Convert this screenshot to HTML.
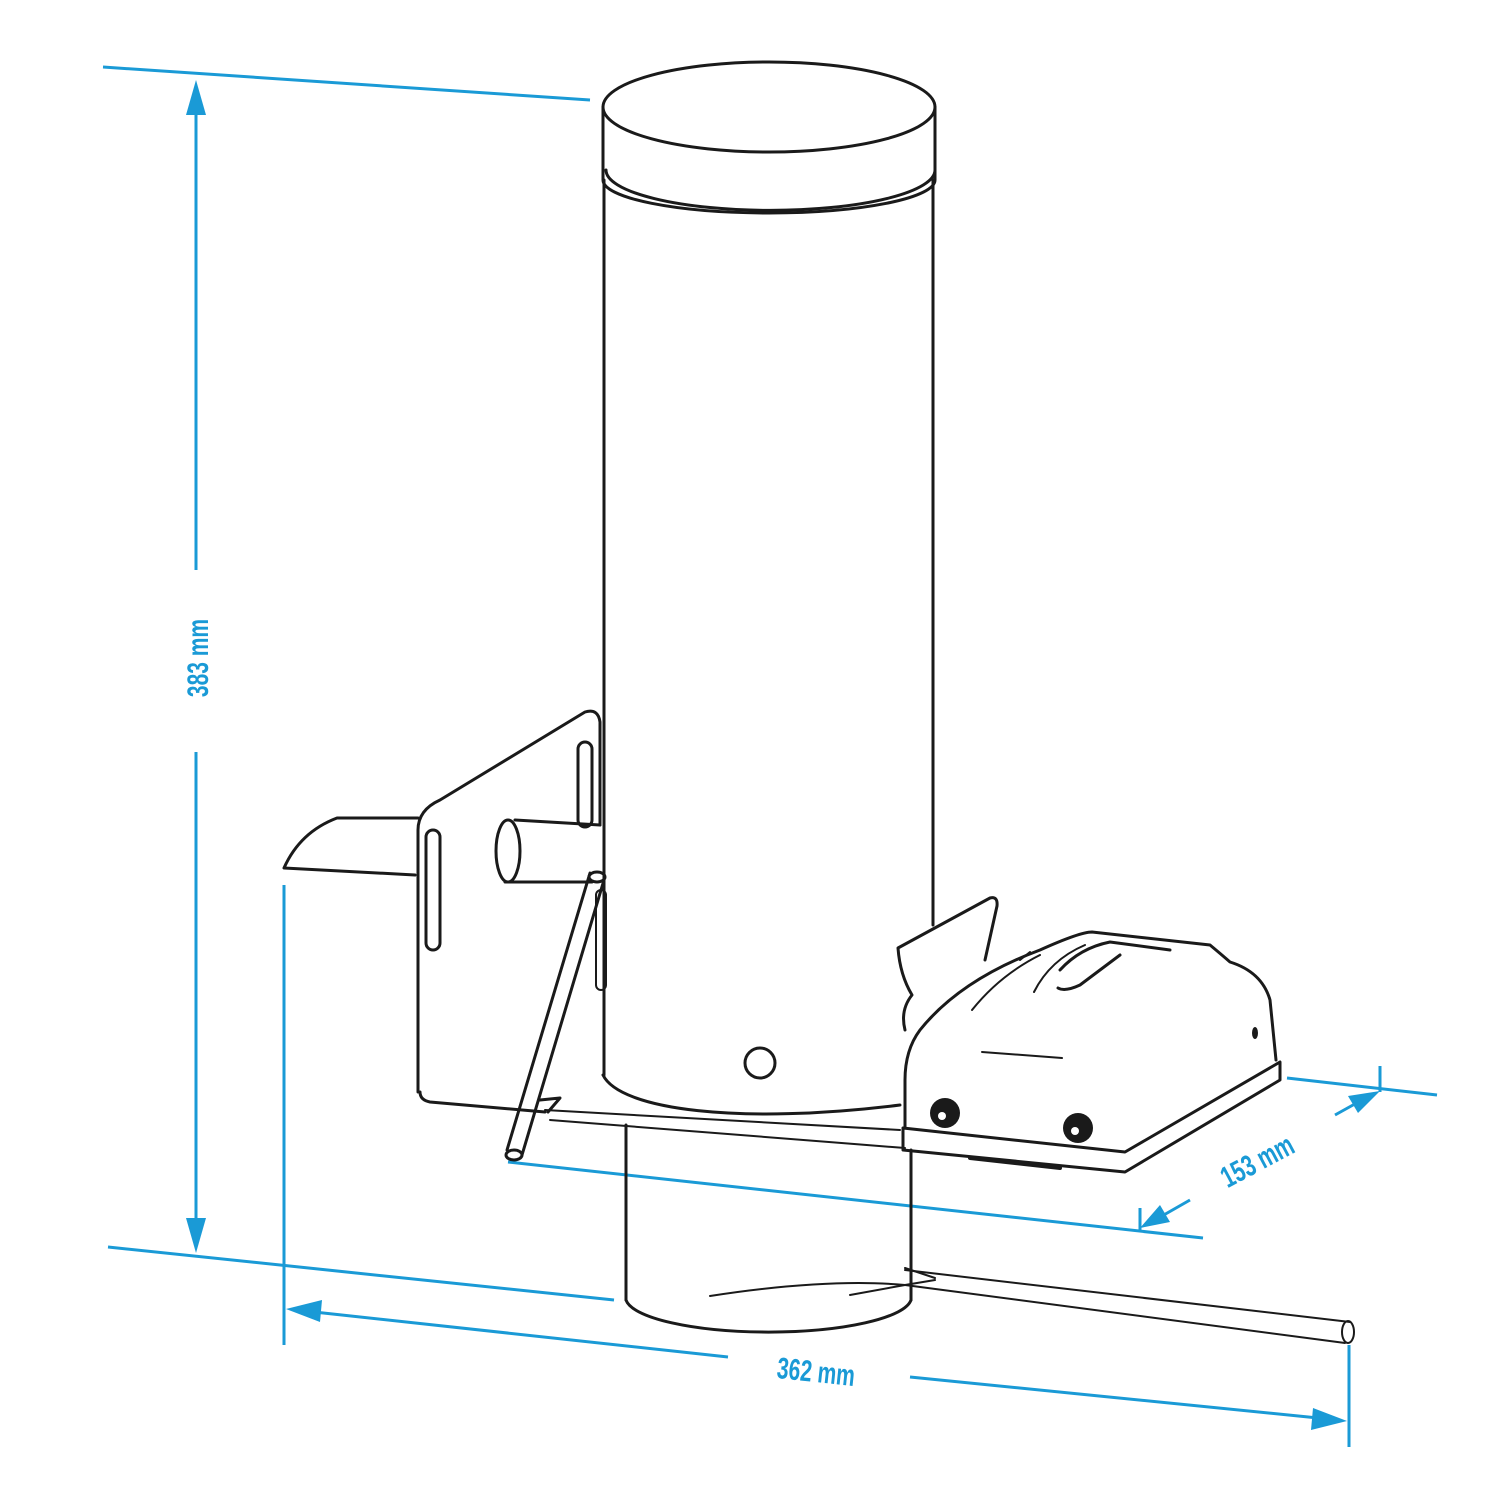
<!DOCTYPE html>
<html><head><style>body{margin:0;background:#fff}svg{display:block}</style></head>
<body>
<svg width="1500" height="1500" viewBox="0 0 1500 1500" xmlns="http://www.w3.org/2000/svg">
<g fill="none" stroke="#1a9ad6" stroke-width="3">
<line x1="103" y1="67" x2="590" y2="100"/>
<line x1="196" y1="100" x2="196" y2="570"/>
<line x1="196" y1="752" x2="196" y2="1235"/>
<line x1="108" y1="1247" x2="614" y2="1300"/>
<line x1="284" y1="885" x2="284" y2="1345"/>
<line x1="1349" y1="1345" x2="1349" y2="1447"/>
<line x1="305" y1="1311" x2="728" y2="1357"/>
<line x1="910" y1="1377" x2="1328" y2="1419"/>
<line x1="508" y1="1162" x2="1203" y2="1238"/>
<line x1="1287" y1="1078" x2="1437" y2="1095"/>
<line x1="1140" y1="1208" x2="1140" y2="1232"/>
<line x1="1380" y1="1066" x2="1380" y2="1092"/>
<line x1="1155" y1="1220" x2="1190" y2="1200"/>
<line x1="1335" y1="1115" x2="1362" y2="1100"/>
</g>
<g fill="#1a9ad6">
<polygon points="196,80 186,115 206,115"/>
<polygon points="196,1253 186,1218 206,1218"/>
<polygon points="286,1309 322,1300 320,1322"/>
<polygon points="1347,1421 1311,1430 1313,1408"/>
<polygon points="1140,1228 1160,1205 1170,1222"/>
<polygon points="1380,1091 1358,1113 1348,1096"/>
<text x="0" y="0" font-family="Liberation Sans, sans-serif" font-weight="bold" font-size="30" text-anchor="middle" transform="translate(208,658) rotate(-90) scale(0.7,1)">383 mm</text>
<text x="0" y="0" font-family="Liberation Sans, sans-serif" font-weight="bold" font-size="30" text-anchor="middle" transform="translate(815,1382) rotate(6) scale(0.7,1)">362 mm</text>
<text x="0" y="0" font-family="Liberation Sans, sans-serif" font-weight="bold" font-size="30" text-anchor="middle" transform="translate(1262,1170) rotate(-28) scale(0.7,1)">153 mm</text>
</g>
<g fill="none" stroke="#1a1a1a" stroke-width="3" stroke-linejoin="round" stroke-linecap="round">
<ellipse cx="769" cy="107" rx="166" ry="45"/>
<path d="M603,107 V180 A166,33 0 0 0 935,180 V107"/>
<path d="M606,170 A163,40 0 0 0 935,170"/>
<line x1="604" y1="180" x2="604" y2="1075"/>
<line x1="933" y1="180" x2="933" y2="925"/>
<path d="M603,1075 C620,1110 740,1125 900,1105"/>
<circle cx="760" cy="1063" r="15"/>
<line x1="626" y1="1125" x2="626" y2="1300"/>
<line x1="911" y1="1150" x2="911" y2="1300"/>
<path d="M626,1300 A143,35 0 0 0 911,1300"/>
<path d="M710,1296 C780,1285 850,1280 905,1285" stroke-width="2"/>
<path d="M850,1295 L905,1285 L935,1280" stroke-width="2"/>
<path d="M905,1270 L1350,1322 M905,1285 L1345,1343" stroke-width="2"/>
<ellipse cx="1348" cy="1332" rx="6" ry="11" stroke-width="2"/>
<path d="M905,1268 L935,1278" stroke-width="2"/>
<path d="M545,1110 L900,1130 M550,1120 L905,1148" stroke-width="2"/>
<path d="M418,1092 V830 Q418,810 440,800 L585,712 Q598,708 600,722 V825"/>
<path d="M420,1092 Q420,1100 430,1102 L545,1112"/>
<path d="M418,818 H337 Q300,832 284,868 L415,875"/>
<rect x="426" y="830" width="14" height="120" rx="7"/>
<rect x="578" y="742" width="14" height="85" rx="7"/>
<rect x="596" y="890" width="10" height="100" rx="5" stroke-width="2"/>
<path d="M515,820 L600,825 M505,882 L592,882"/>
<ellipse cx="508" cy="851" rx="12" ry="31"/>
<path d="M590,873 L507,1150 M604,880 L522,1155"/>
<ellipse cx="597" cy="877" rx="8" ry="5"/>
<ellipse cx="514" cy="1155" rx="8" ry="5"/>
<path d="M540,1100 L560,1098 L548,1112"/>
<path d="M905,1030 Q900,1010 912,995 Q900,975 898,948 L990,898 Q998,896 997,906 L985,960"/>
<path d="M905,1128 V1080 Q905,1050 920,1030 Q960,980 1040,950 Q1080,932 1092,932 L1210,945 Q1222,955 1230,962 Q1262,972 1270,1000 L1276,1060"/>
<path d="M1060,970 Q1080,948 1110,942 L1170,950 M1120,955 L1080,985 Q1065,992 1058,988"/>
<path d="M1034,992 Q1050,960 1085,945 M1020,960 L1030,952 M972,1010 Q1000,975 1040,955" stroke-width="2"/>
<line x1="982" y1="1052" x2="1062" y2="1058" stroke-width="2"/>
<path d="M903,1128 L1125,1152 L1280,1062 V1080 L1125,1172 L903,1150 Z"/>
<path d="M970,1158 L1060,1168" stroke-width="4"/>
</g>
<g fill="#1a1a1a">
<circle cx="945" cy="1113" r="15"/>
<circle cx="1078" cy="1128" r="15"/>
<ellipse cx="1255" cy="1033" rx="3" ry="6"/>
</g>
<g fill="#fff"><circle cx="942" cy="1116" r="4"/><circle cx="1075" cy="1131" r="4"/></g>
</svg>
</body></html>
